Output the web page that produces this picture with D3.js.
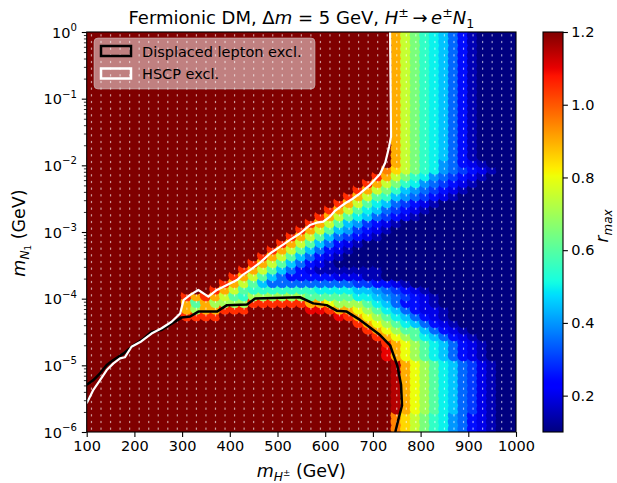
<!DOCTYPE html>
<html>
<head>
<meta charset="utf-8">
<script src="https://cdn.jsdelivr.net/npm/d3@7"></script>
<style>
  body { margin: 0; background: #fff; }
  svg text { font-family: "DejaVu Sans", sans-serif; fill: #000; }
</style>
</head>
<body>
<div id="chart"></div>
<script>
// DATA
// ------------------------------------------------------------------

// scan grid: charged Higgs mass (GeV) and log10 of the N1 mass (GeV)
var mHgrid = [110,130,150,170,190,210,230,250,270,290,310,330,350,370,390,
              410,430,450,470,490,510,530,550,570,590,610,630,650,670,690,
              710,730,750,770,790,810,830,850,870,890,910,930,950,970,990];
var logMNgrid = [-5.95,-5.85,-5.75,-5.65,-5.55,-5.45,-5.35,-5.25,-5.15,-5.05,
                 -4.95,-4.85,-4.75,-4.65,-4.55,-4.45,-4.35,-4.25,-4.15,-4.05,
                 -3.95,-3.85,-3.75,-3.65,-3.55,-3.45,-3.35,-3.25,-3.15,-3.05,
                 -2.95,-2.85,-2.75,-2.65,-2.55,-2.45,-2.35,-2.25,-2.15,-2.05,
                 -1.95,-1.85,-1.75,-1.65,-1.55,-1.45,-1.35,-1.25,-1.15,-1.05,
                 -0.95,-0.85,-0.75,-0.65,-0.55,-0.45,-0.35,-0.25,-0.15,-0.05];

// r_max level codes (one character per grid cell)
var rCodes = "0123456789ABCDEFGHIJKLM";
var rLevels = [0.10,0.15,0.20,0.25,0.30,0.35,0.40,0.45,0.50,0.55,0.60,0.65,
               0.70,0.75,0.80,0.85,0.90,0.95,1.00,1.05,1.10,1.15,1.20];

// one row per mN value, top row first; X{n} = n cells of level X
var rmaxRows = [
  "M{32}GDB9875310000",
  "M{32}GDB9875310000",
  "M{32}GDB9875310000",
  "M{32}GDB9875310000",
  "M{32}GDB9875310000",
  "M{32}GDB9875310000",
  "M{32}GDB9875310000",
  "M{32}GDB9875310000",
  "M{32}GDB9875310000",
  "M{32}GDB9875310000",
  "M{32}GDB9875310000",
  "M{32}GDB9875310000",
  "M{32}GDB9875310000",
  "M{32}GDB9875310000",
  "M{32}GDB9875310000",
  "M{32}GDB9875310000",
  "M{32}GDB9875310000",
  "M{32}GDB9875310000",
  "M{32}GDB9875310000",
  "M{32}GDB9865321000",
  "M{31}HFDB9865432100",
  "M{30}JGDB98654321000",
  "M{29}JGDB986543210000",
  "M{28}JGDB976543210{5}",
  "M{27}JGDA976543210{6}",
  "M{26}JGDA87543210{8}",
  "M{25}JGDA87543210{9}",
  "M{24}JGDA87543210{10}",
  "M{23}JGDA7643210{12}",
  "M{22}JGDA7643210{13}",
  "M{21}JGDA7543210{14}",
  "M{20}JGDA753210{16}",
  "M{19}JGDA753210{17}",
  "M{18}JGDA753210{18}",
  "M{17}JGDA753210{19}",
  "M{16}JGDA753211111110{14}",
  "M{15}JGDA7533333222110{14}",
  "M{14}JGDA75555555554433210{11}",
  "M{13}JGDA99999998888776543210{9}",
  "M{10}JGJGDA9CCCCCCAAAAA8876543210{8}",
  "M{10}GAGCCCCJJJJJJGGECCCA87533210{8}",
  "M{10}GCGGJJJM{6}KKJGGECA87532210{7}",
  "M{10}JJJJM{12}KJGECA8753210{7}",
  "M{28}JGECA8753210{6}",
  "M{29}JGECAA753210{5}",
  "M{30}JGECA8753210{4}",
  "M{31}JGECA8753210{3}",
  "M{31}KGECA8753210{3}",
  "M{31}KGECA8753210{3}",
  "M{32}LGECA87542100",
  "M{32}LGECA87542100",
  "M{32}LGECA87542100",
  "M{32}LGECA87542100",
  "M{32}LGECA87542100",
  "M{32}LGECA87542100",
  "M{32}LGECA87542100",
  "M{32}LGECA87542100",
  "M{32}HFDB986532100",
  "M{32}HFDB986532100",
  "M{32}HFDB986532100"
];

// exclusion contours [mH (GeV), mN (GeV)]
var dlLine = [[100,5.1e-6],[114,6.0e-6],[128,7.6e-6],[142,1.01e-5],[156,1.2e-5],
  [177,1.5e-5],[198,2.0e-5],[219,2.5e-5],[236,3.2e-5],[257,3.4e-5],[278,4.2e-5],
  [299,5.2e-5],[317,5.4e-5],[334,6.4e-5],[373,6.4e-5],[394,8.0e-5],[436,8.2e-5],
  [453,1.01e-4],[547,1.05e-4],[575,8.5e-5],[603,8.0e-5],[624,6.6e-5],[645,6.4e-5],
  [673,4.8e-5],[701,3.4e-5],[715,2.85e-5],[736,2.0e-5],[751,1.0e-5],[759,5.1e-6],
  [761,2.5e-6],[753,1.5e-6],[747,1e-6]];
var hscpLine = [[736,1],[738,2.7e-2],[734,1.9e-2],[726,1.1e-2],[715,7.4e-3],
  [694,5.1e-3],[673,3.8e-3],[656,3.1e-3],[642,2.7e-3],[621,2.1e-3],[610,1.7e-3],
  [596,1.43e-3],[582,1.38e-3],[568,1.27e-3],[547,9.5e-4],[526,7.6e-4],[505,6.0e-4],
  [485,4.8e-4],[464,3.5e-4],[443,2.7e-4],[428,2.3e-4],[415,1.9e-4],[394,1.6e-4],
  [373,1.35e-4],[355,1.07e-4],[334,1.35e-4],[317,1.14e-4],[303,9.5e-5],[296,6.0e-5],
  [278,4.5e-5],[257,3.6e-5],[236,3.0e-5],[215,2.3e-5],[194,1.9e-5],[180,1.32e-5],
  [170,1.27e-5],[156,1.07e-5],[142,8.5e-6],[128,6.0e-6],[114,4.3e-6],[100,2.7e-6]];

var xTicks = [100,200,300,400,500,600,700,800,900,1000];
var yTickExp = [-6,-5,-4,-3,-2,-1,0];
var cbTicks = [0.2,0.4,0.6,0.8,1.0,1.2];
var legendLabels = ["Displaced lepton excl.", "HSCP excl."];

// CANVAS
// ------------------------------------------------------------------

var width = 617, height = 483;
var plotL = 86.7, plotR = 516, plotT = 32, plotB = 432;

var svg = d3.select("#chart").append("svg")
    .attr("width", width)
    .attr("height", height);

var xScale = d3.scaleLinear().domain([100, 1000]).range([plotL, plotR]),
    yScale = d3.scaleLog().domain([1e-6, 1]).range([plotB, plotT]);

// jet colormap, vmin 0.1 / vmax 1.2
var norm = d3.scaleLinear().domain([0.1, 1.2]).range([0, 1]).clamp(true),
    jetR = d3.scaleLinear().domain([0, 0.35, 0.66, 0.89, 1]).range([0, 0, 1, 1, 0.5]).clamp(true),
    jetG = d3.scaleLinear().domain([0, 0.125, 0.375, 0.64, 0.91, 1]).range([0, 0, 1, 1, 0, 0]).clamp(true),
    jetB = d3.scaleLinear().domain([0, 0.11, 0.34, 0.65, 1]).range([0.5, 1, 1, 0, 0]).clamp(true);
function jetT(t) { return d3.rgb(255 * jetR(t), 255 * jetG(t), 255 * jetB(t)).toString(); }
function jet(v) { return jetT(norm(v)); }

var defs = svg.append("defs");
defs.append("clipPath").attr("id", "plotclip")
  .append("rect")
    .attr("x", plotL).attr("y", plotT)
    .attr("width", plotR - plotL).attr("height", plotB - plotT);

// SCATTER
// ------------------------------------------------------------------

var rows = rmaxRows.map(function(s) {
  var r = s.replace(/(.)\{(\d+)\}/g, function(m, c, n) { return c.repeat(+n); });
  if (r.length !== mHgrid.length) throw new Error("bad row " + s + " -> " + r.length);
  return r;
});
if (rows.length !== logMNgrid.length) throw new Error("bad row count " + rows.length);

var points = [];
mHgrid.forEach(function(mh, i) {
  logMNgrid.forEach(function(lg, j) {
    var code = rows[rows.length - 1 - j][i];
    points.push({ mh: mh, mn: Math.pow(10, lg), r: rLevels[rCodes.indexOf(code)] });
  });
});

var plot = svg.append("g").attr("clip-path", "url(#plotclip)");

plot.selectAll("circle.pt")
  .data(points)
  .enter().append("circle")
    .attr("class", "pt")
    .attr("cx", function(d) { return xScale(d.mh); })
    .attr("cy", function(d) { return yScale(d.mn); })
    .attr("r", 6.2)
    .attr("fill", function(d) { return jet(d.r); });

plot.selectAll("rect.dot")
  .data(points)
  .enter().append("rect")
    .attr("class", "dot")
    .attr("x", function(d) { return xScale(d.mh) - 0.6; })
    .attr("y", function(d) { return yScale(d.mn) - 1.1; })
    .attr("width", 1.2)
    .attr("height", 2.2)
    .attr("fill", "#fff")
    .attr("fill-opacity", 0.6);

// CONTOURS
// ------------------------------------------------------------------

var line = d3.line()
    .x(function(d) { return xScale(d[0]); })
    .y(function(d) { return yScale(d[1]); });

plot.append("path").attr("d", line(dlLine))
    .attr("fill", "none").attr("stroke", "#000").attr("stroke-width", 2.5)
    .attr("stroke-linejoin", "round");
plot.append("path").attr("d", line(hscpLine))
    .attr("fill", "none").attr("stroke", "#fff").attr("stroke-width", 2.2)
    .attr("stroke-linejoin", "round");

// AXES
// ------------------------------------------------------------------

function mathText(sel, parts, fs) {
  var shift = 0;
  parts.forEach(function(p) {
    var target = (p.sh || 0) * fs;
    var ts = sel.append("tspan").text(p.t)
        .attr("dy", target - shift)
        .style("font-size", (p.sc || 1) * fs + "px");
    if (p.it) ts.style("font-style", "italic");
    shift = target;
  });
}

var xg = svg.append("g")
    .attr("transform", "translate(0," + plotB + ")")
    .call(d3.axisBottom(xScale).tickValues(xTicks).tickSize(4.9).tickPadding(3.4)
          .tickFormat(d3.format("d")));
xg.select(".domain").remove();
xg.selectAll("line").attr("stroke", "#000").attr("stroke-width", 1.1);
xg.selectAll("text").style("font-size", "14.5px").style("font-family", "DejaVu Sans").attr("fill", "#000");

var yMinor = [];
yTickExp.slice(0, -1).forEach(function(e) {
  [2, 3, 4, 5, 6, 7, 8, 9].forEach(function(k) { yMinor.push(k * Math.pow(10, e)); });
});

var yg = svg.append("g")
    .attr("transform", "translate(" + plotL + ",0)")
    .call(d3.axisLeft(yScale).tickValues(yTickExp.map(function(e) { return Math.pow(10, e); }))
          .tickSize(4.9).tickFormat(""));
yg.select(".domain").remove();
yg.selectAll("line").attr("stroke", "#000").attr("stroke-width", 1.1);

var ygm = svg.append("g")
    .attr("transform", "translate(" + plotL + ",0)")
    .call(d3.axisLeft(yScale).tickValues(yMinor).tickSize(2.8).tickFormat(""));
ygm.select(".domain").remove();
ygm.selectAll("line").attr("stroke", "#000").attr("stroke-width", 0.8);

yTickExp.forEach(function(e) {
  var t = svg.append("text")
      .attr("x", 77)
      .attr("y", yScale(Math.pow(10, e)) + 5.5)
      .attr("text-anchor", "end");
  mathText(t, [{ t: "10" }, { t: e < 0 ? "\u2212" + (-e) : "" + e, sc: 0.7, sh: -0.45 }], 14.5);
});

// frame
svg.append("rect")
    .attr("x", plotL).attr("y", plotT)
    .attr("width", plotR - plotL).attr("height", plotB - plotT)
    .attr("fill", "none").attr("stroke", "#000").attr("stroke-width", 1.1);

// labels
var xl = svg.append("text").attr("x", (plotL + plotR) / 2).attr("y", 477)
    .attr("text-anchor", "middle");
mathText(xl, [{ t: "m", it: 1 }, { t: "H", it: 1, sc: 0.7, sh: 0.22 },
              { t: "\u00b1", sc: 0.5, sh: -0.05 }, { t: " (GeV)" }], 17.5);

var yl = svg.append("text").attr("transform", "translate(25,233) rotate(-90)")
    .attr("text-anchor", "middle");
mathText(yl, [{ t: "m", it: 1 }, { t: "N", it: 1, sc: 0.7, sh: 0.22 },
              { t: "1", sc: 0.5, sh: 0.36 }, { t: " (GeV)" }], 17.5);

var title = svg.append("text").attr("x", (plotL + plotR) / 2).attr("y", 24)
    .attr("text-anchor", "middle");
mathText(title, [{ t: "Fermionic DM, \u0394" }, { t: "m", it: 1 }, { t: " = 5 GeV, " },
                 { t: "H", it: 1 }, { t: "\u00b1", sc: 0.7, sh: -0.4 }, { t: "\u2009\u2192\u2009" },
                 { t: "e", it: 1 }, { t: "\u00b1", sc: 0.7, sh: -0.4 }, { t: "N", it: 1 },
                 { t: "1", sc: 0.7, sh: 0.2 }], 18);

// LEGEND
// ------------------------------------------------------------------

var leg = svg.append("g");
leg.append("rect")
    .attr("x", 94).attr("y", 38).attr("width", 221).attr("height", 51).attr("rx", 4)
    .attr("fill", "#fff").attr("fill-opacity", 0.5)
    .attr("stroke", "#ccc").attr("stroke-opacity", 0.5);
[{ c: "#000", y: 46 }, { c: "#fff", y: 68.5 }].forEach(function(h, k) {
  leg.append("rect")
      .attr("x", 101).attr("y", h.y).attr("width", 30).attr("height", 10)
      .attr("fill", "none").attr("stroke", h.c).attr("stroke-width", 2.5);
  leg.append("text")
      .attr("x", 142).attr("y", h.y + 10.5)
      .style("font-size", "14.5px")
      .text(legendLabels[k]);
});

// COLORBAR
// ------------------------------------------------------------------

var cbX = 543, cbW = 20;
var cbScale = d3.scaleLinear().domain([0.1, 1.2]).range([plotB, plotT]);

var grad = defs.append("linearGradient")
    .attr("id", "jetgrad").attr("x1", 0).attr("y1", 1).attr("x2", 0).attr("y2", 0);
d3.range(0, 1.0001, 0.01).forEach(function(t) {
  grad.append("stop").attr("offset", t).attr("stop-color", jetT(t));
});

svg.append("rect")
    .attr("x", cbX).attr("y", plotT).attr("width", cbW).attr("height", plotB - plotT)
    .attr("fill", "url(#jetgrad)").attr("stroke", "#000").attr("stroke-width", 1.1);

var cg = svg.append("g")
    .attr("transform", "translate(" + (cbX + cbW) + ",0)")
    .call(d3.axisRight(cbScale).tickValues(cbTicks).tickSize(4.9).tickPadding(3.4)
          .tickFormat(d3.format(".1f")));
cg.select(".domain").remove();
cg.selectAll("line").attr("stroke", "#000").attr("stroke-width", 1.1);
cg.selectAll("text").style("font-size", "14.5px").style("font-family", "DejaVu Sans").attr("fill", "#000");

var cl = svg.append("text").attr("transform", "translate(608,226) rotate(-90)")
    .attr("text-anchor", "middle");
mathText(cl, [{ t: "r", it: 1 }, { t: "max", it: 1, sc: 0.7, sh: 0.22 }], 17);
</script>
</body>
</html>
